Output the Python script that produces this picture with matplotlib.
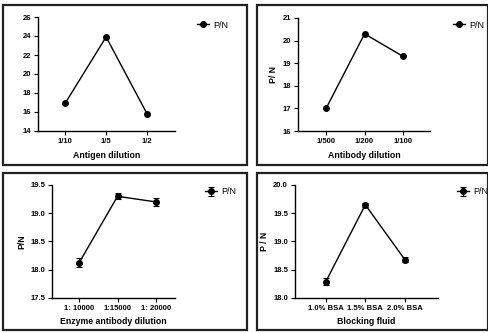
import numpy as np
import matplotlib.pyplot as plt
from matplotlib.patches import Rectangle

plt.rcParams['font.family'] = ['Liberation Sans', 'DejaVu Sans']

W, H = 489, 333

antigen_labels = ['1/10', '1/5', '1/2']
antigen_pn = [16.9, 23.9, 15.8]

antibody_labels = ['1/500', '1/200', '1/100']
antibody_pn = [17.0, 20.3, 19.3]

enzyme_labels = ['1: 10000', '1:15000', '1: 20000']
enzyme_pn = [18.12, 19.30, 19.20]
enzyme_err = [0.08, 0.05, 0.07]

blocking_labels = ['1.0% BSA', '1.5% BSA', '2.0% BSA']
blocking_pn = [18.29, 19.65, 18.68]
blocking_err = [0.06, 0.04, 0.04]


def px_axes(fig, left, top, right, bottom):
    return fig.add_axes([left / W, 1 - bottom / H, (right - left) / W, (bottom - top) / H])


def box(fig, left, top, right, bottom):
    r = Rectangle((left / W, 1 - bottom / H), (right - left) / W, (bottom - top) / H,
                  transform=fig.transFigure, fill=False, lw=1.6, ec='#222222')
    fig.patches.append(r)


def panel(fig, ax, labels, vals, err, xlim, ylim, yticks, yfmt, xlabel, ylabel, leg_xy):
    x = np.arange(len(vals))
    if err is None:
        ax.plot(x, vals, '-o', color='black', lw=1.0, ms=4, label='P/N')
    else:
        ax.errorbar(x, vals, yerr=err, fmt='-o', color='black', lw=1.0, ms=4,
                    elinewidth=0.8, capsize=2, capthick=0.8, label='P/N')
    ax.set_xlim(*xlim)
    ax.set_ylim(*ylim)
    ax.set_yticks(yticks)
    ax.set_yticklabels([yfmt.format(v) for v in yticks])
    ax.set_xticks(x)
    ax.set_xticklabels(labels)
    for s in ['top', 'right']:
        ax.spines[s].set_visible(False)
    for s in ['left', 'bottom']:
        ax.spines[s].set_linewidth(1.0)
    ax.tick_params(direction='out', length=3, width=0.8, labelsize=5.5, pad=2)
    for t in ax.get_xticklabels() + ax.get_yticklabels():
        t.set_fontweight('bold')
    ax.set_xlabel(xlabel, fontsize=6.3, fontweight='bold', labelpad=4)
    if ylabel:
        ax.set_ylabel(ylabel, fontsize=6.3, fontweight='bold', labelpad=3)
    ax.legend(loc='center left', bbox_to_anchor=(leg_xy[0] / W, 1 - leg_xy[1] / H),
              bbox_transform=fig.transFigure, frameon=False, fontsize=6.5,
              handlelength=1.3, handletextpad=0.5, borderpad=0, borderaxespad=0)


def main():
    fig = plt.figure(figsize=(W / 100, H / 100), dpi=100)

    box(fig, 3, 5, 247, 165)
    box(fig, 257, 5, 488, 165)
    box(fig, 3, 173, 247, 330)
    box(fig, 257, 173, 488, 330)

    ax1 = px_axes(fig, 38, 17, 175, 131)
    panel(fig, ax1, antigen_labels, antigen_pn, None, (-0.66, 2.68), (14, 26),
          [14, 16, 18, 20, 22, 24, 26], '{:.0f}', 'Antigen dilution', None, (197, 25))

    ax2 = px_axes(fig, 298, 18, 430, 131)
    panel(fig, ax2, antibody_labels, antibody_pn, None, (-0.73, 2.70), (16, 21),
          [16, 17, 18, 19, 20, 21], '{:.0f}', 'Antibody dilution', 'P/ N', (453, 25))

    ax3 = px_axes(fig, 52, 185, 175, 298)
    panel(fig, ax3, enzyme_labels, enzyme_pn, enzyme_err, (-0.70, 2.49), (17.5, 19.5),
          [17.5, 18.0, 18.5, 19.0, 19.5], '{:.1f}', 'Enzyme antibody dilution', 'P/N', (205, 192))

    ax4 = px_axes(fig, 295, 185, 438, 298)
    panel(fig, ax4, blocking_labels, blocking_pn, blocking_err, (-0.78, 2.84), (18.0, 20.0),
          [18.0, 18.5, 19.0, 19.5, 20.0], '{:.1f}', 'Blocking fluid', 'P / N', (457, 192))

    fig.savefig('out.png', dpi=100)


if __name__ == "__main__":
    main()
